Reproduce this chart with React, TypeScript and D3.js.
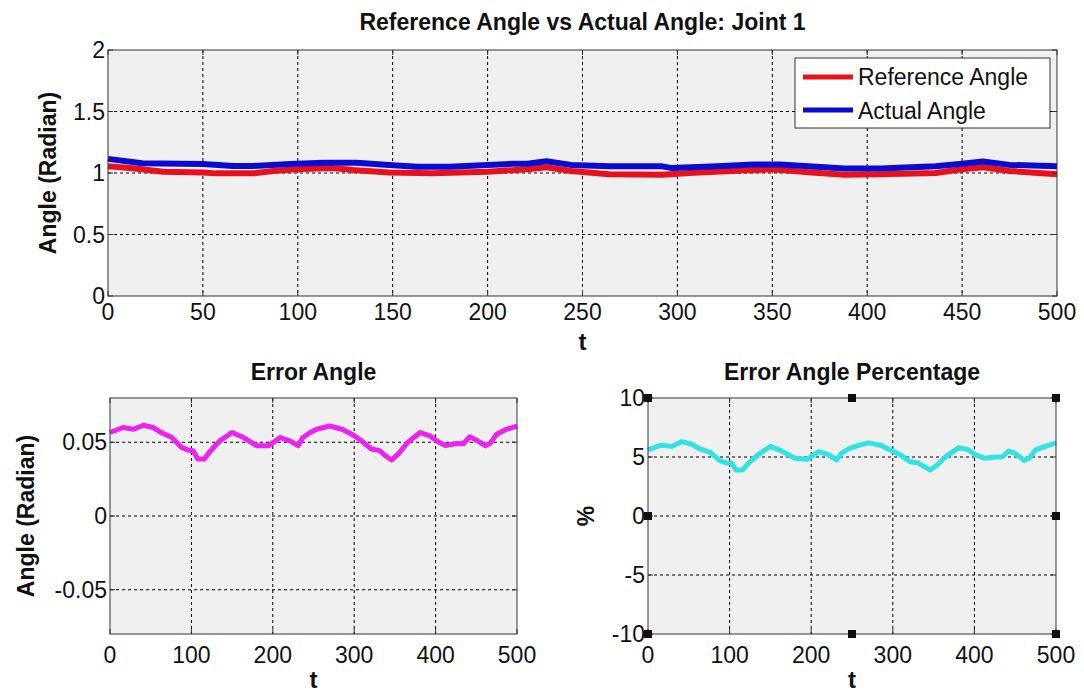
import * as d3 from 'd3'

// top panel: reference vs actual
const refT = [0, 13, 29, 50, 57, 76, 87, 100, 118, 129, 148, 171, 200, 210, 221, 231, 244, 264, 292, 306, 340, 350, 369, 388, 407, 436, 450, 461, 475, 500]
const refVals = [1.055, 1.038, 1.011, 1.005, 0.997, 0.997, 1.016, 1.03, 1.04, 1.024, 1.005, 0.997, 1.011, 1.02, 1.03, 1.046, 1.016, 0.99, 0.985, 1.0, 1.024, 1.03, 1.007, 0.985, 0.99, 1.0, 1.03, 1.046, 1.016, 0.99]
const actT = [0, 18, 50, 66, 76, 96, 114, 131, 148, 163, 180, 200, 213, 221, 231, 244, 264, 292, 297, 321, 340, 354, 369, 388, 407, 436, 450, 461, 475, 500]
const actVals = [1.115, 1.079, 1.073, 1.057, 1.057, 1.073, 1.084, 1.084, 1.065, 1.051, 1.051, 1.065, 1.075, 1.075, 1.096, 1.066, 1.054, 1.054, 1.04, 1.054, 1.069, 1.069, 1.054, 1.037, 1.037, 1.054, 1.075, 1.094, 1.066, 1.054]

// bottom panels share the same t grid
const errT = [0, 16, 29, 41, 53, 63, 76, 88, 96, 102, 108, 116, 122, 135, 150, 164, 180, 195, 209, 221, 231, 237, 246, 254, 270, 285, 297, 309, 321, 331, 338, 346, 354, 366, 381, 393, 401, 412, 426, 434, 442, 450, 461, 467, 475, 487, 500]
const errVals = [0.0566, 0.060, 0.0588, 0.0615, 0.060, 0.0566, 0.0532, 0.0465, 0.0447, 0.0443, 0.0387, 0.0387, 0.0432, 0.051, 0.0566, 0.0532, 0.0477, 0.0477, 0.0532, 0.051, 0.0477, 0.0532, 0.0566, 0.0588, 0.061, 0.0588, 0.0555, 0.051, 0.0454, 0.0443, 0.041, 0.038, 0.042, 0.05, 0.0566, 0.0544, 0.051, 0.0477, 0.0492, 0.049, 0.0537, 0.0515, 0.0477, 0.0492, 0.0555, 0.0588, 0.061]
const pctVals = [5.6, 6.0, 5.9, 6.3, 6.1, 5.7, 5.4, 4.7, 4.5, 4.5, 3.9, 3.9, 4.4, 5.2, 5.9, 5.5, 4.9, 4.8, 5.45, 5.2, 4.75, 5.3, 5.7, 5.9, 6.2, 6.0, 5.6, 5.2, 4.6, 4.5, 4.2, 3.9, 4.3, 5.1, 5.8, 5.6, 5.2, 4.9, 5.0, 5.0, 5.5, 5.3, 4.7, 4.9, 5.6, 5.9, 6.2]

const topXTicks = [0, 50, 100, 150, 200, 250, 300, 350, 400, 450, 500]
const topYTicks = [0, 0.5, 1, 1.5, 2]
const botXTicks = [0, 100, 200, 300, 400, 500]
const errYTicks = [-0.05, 0, 0.05]
const pctYTicks = [-10, -5, 0, 5, 10]
const handleX = [0, 250, 500]
const handleY = [-10, 0, 10]

const FONT = '"Liberation Sans", Arial, sans-serif'

interface Series {
  t: number[]
  v: number[]
  color: string
  width: number
}

interface PanelProps {
  x0: number
  x1: number
  y0: number
  y1: number
  yDomain: [number, number]
  xTicks: number[]
  yTicks: number[]
  series: Series[]
  title: string
  titleY: number
  yLabel: string
  yLabelX: number
  xTickY: number
  xLabelY: number
  handles?: boolean
}

function Panel(p: PanelProps) {
  const x = d3.scaleLinear().domain([0, 500]).range([p.x0, p.x1])
  const y = d3.scaleLinear().domain(p.yDomain).range([p.y1, p.y0])
  const w = p.x1 - p.x0
  const h = p.y1 - p.y0
  return (
    <g fontFamily={FONT}>
      <rect x={p.x0} y={p.y0} width={w} height={h} fill="#f0f0f0" />
      {p.xTicks.slice(1, -1).map((t) => (
        <line key={'gx' + t} x1={x(t)} x2={x(t)} y1={p.y0} y2={p.y1} stroke="#000" strokeWidth={1} strokeDasharray="3,3" />
      ))}
      {p.yTicks.filter((t) => t > p.yDomain[0] && t < p.yDomain[1]).map((t) => (
        <line key={'gy' + t} x1={p.x0} x2={p.x1} y1={y(t)} y2={y(t)} stroke="#000" strokeWidth={1} strokeDasharray="3,3" />
      ))}
      {p.series.map((s, i) => {
        const line = d3
          .line<number>()
          .x((_, j) => x(s.t[j]))
          .y((d) => y(d))
        return <path key={i} d={line(s.v) || ''} fill="none" stroke={s.color} strokeWidth={s.width} strokeLinejoin="round" />
      })}
      <rect x={p.x0} y={p.y0} width={w} height={h} fill="none" stroke="#333" strokeWidth={1} />
      {p.xTicks.map((t) => (
        <g key={'tx' + t}>
          <line x1={x(t)} x2={x(t)} y1={p.y1} y2={p.y1 - 5} stroke="#333" />
          <line x1={x(t)} x2={x(t)} y1={p.y0} y2={p.y0 + 5} stroke="#333" />
          <text x={x(t)} y={p.xTickY} textAnchor="middle" fontSize={23} fill="#111">{t}</text>
        </g>
      ))}
      {p.yTicks.map((t) => (
        <g key={'ty' + t}>
          <line x1={p.x0} x2={p.x0 + 5} y1={y(t)} y2={y(t)} stroke="#333" />
          <line x1={p.x1} x2={p.x1 - 5} y1={y(t)} y2={y(t)} stroke="#333" />
          <text x={p.x0 - 3} y={y(t) + 8} textAnchor="end" fontSize={23} fill="#111">{String(t)}</text>
        </g>
      ))}
      {p.handles &&
        handleX.flatMap((hx) =>
          handleY
            .filter((hy) => !(hx === 250 && hy === 0))
            .map((hy) => (
              <rect key={`h${hx}_${hy}`} x={x(hx) - 4} y={y(hy) - 4} width={8} height={8} fill="#111" />
            ))
        )}
      <text x={(p.x0 + p.x1) / 2} y={p.titleY} textAnchor="middle" fontSize={23} fontWeight="bold" fill="#111">{p.title}</text>
      <text x={(p.x0 + p.x1) / 2} y={p.xLabelY} textAnchor="middle" fontSize={24} fontWeight="bold" fill="#111">t</text>
      <text transform={`translate(${p.yLabelX},${(p.y0 + p.y1) / 2}) rotate(-90)`} textAnchor="middle" fontSize={23} fontWeight="bold" fill="#111">{p.yLabel}</text>
    </g>
  )
}

export default function App() {
  return (
    <svg width={1084} height={690} style={{ position: 'absolute', left: 0, top: 0, background: '#fff' }}>
      <Panel
        x0={108} x1={1057} y0={50} y1={296}
        yDomain={[0, 2]}
        xTicks={topXTicks} yTicks={topYTicks}
        series={[
          { t: refT, v: refVals, color: '#e8101a', width: 6 },
          { t: actT, v: actVals, color: '#0a0ad2', width: 6 },
        ]}
        title="Reference Angle vs Actual Angle: Joint 1" titleY={30}
        yLabel="Angle (Radian)" yLabelX={56} xTickY={320} xLabelY={350}
      />
      <g fontFamily={FONT}>
        <rect x={795} y={58} width={255} height={70} fill="#fff" stroke="#333" />
        <line x1={803} x2={853} y1={77} y2={77} stroke="#e8101a" strokeWidth={5} />
        <line x1={803} x2={853} y1={110} y2={110} stroke="#0a0ad2" strokeWidth={5} />
        <text x={858} y={85} fontSize={23} fill="#111">Reference Angle</text>
        <text x={858} y={119} fontSize={23} fill="#111">Actual Angle</text>
      </g>
      <Panel
        x0={110} x1={517} y0={398} y1={634}
        yDomain={[-0.08, 0.08]}
        xTicks={botXTicks} yTicks={errYTicks}
        series={[{ t: errT, v: errVals, color: '#ee22ee', width: 5 }]}
        title="Error Angle" titleY={380}
        yLabel="Angle (Radian)" yLabelX={34} xTickY={663} xLabelY={688}
      />
      <Panel
        x0={648} x1={1056} y0={398} y1={634}
        yDomain={[-10, 10]}
        xTicks={botXTicks} yTicks={pctYTicks}
        series={[{ t: errT, v: pctVals, color: '#33e3e3', width: 5 }]}
        title="Error Angle Percentage" titleY={380}
        yLabel="%" yLabelX={594} xTickY={663} xLabelY={688}
        handles
      />
    </svg>
  )
}
